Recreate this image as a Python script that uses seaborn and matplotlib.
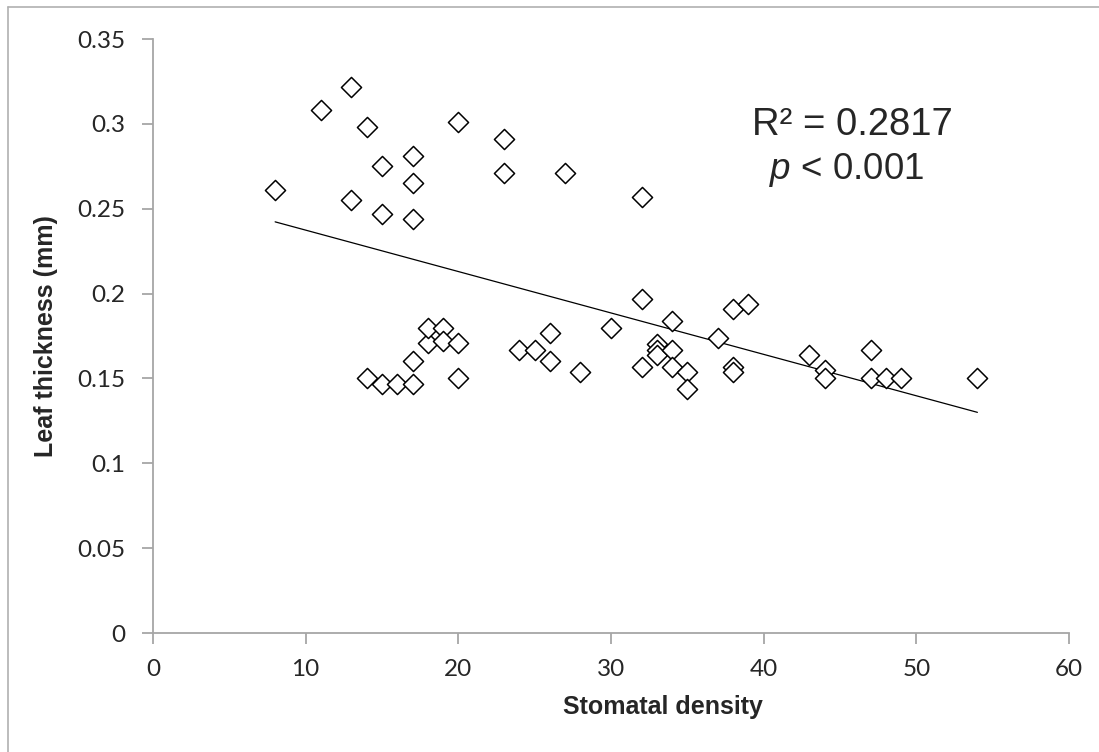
import numpy as np
import pandas as pd
import matplotlib
matplotlib.use("Agg")
import matplotlib.pyplot as plt
import seaborn as sns
from matplotlib.lines import Line2D

# Data
stomatal_density = [8, 11, 13, 14, 13, 15, 15, 17, 17, 17, 20, 23, 23, 27, 32,
                    14, 15, 16, 17, 17, 18, 18, 19, 19, 20, 20, 24, 25, 26, 26, 28, 30,
                    32, 32, 33, 33, 33, 34, 34, 34, 35, 35, 37, 38, 38, 38, 39,
                    43, 44, 44, 47, 47, 48, 49, 54]
leaf_thickness = [0.261, 0.308, 0.322, 0.298, 0.255, 0.275, 0.247, 0.281, 0.265, 0.244,
                  0.301, 0.291, 0.271, 0.271, 0.257,
                  0.150, 0.147, 0.147, 0.147, 0.160, 0.171, 0.180, 0.180, 0.172, 0.171,
                  0.150, 0.167, 0.167, 0.177, 0.160, 0.154, 0.180,
                  0.197, 0.157, 0.170, 0.167, 0.164, 0.184, 0.167, 0.157, 0.154, 0.144,
                  0.174, 0.191, 0.157, 0.154, 0.194,
                  0.164, 0.155, 0.150, 0.167, 0.150, 0.150, 0.150, 0.150]
x_ticks = [0, 10, 20, 30, 40, 50, 60]
y_ticks = [0, 0.05, 0.1, 0.15, 0.2, 0.25, 0.3, 0.35]
y_tick_labels = ["0", "0.05", "0.1", "0.15", "0.2", "0.25", "0.3", "0.35"]
r2_text = "R² = 0.2817"
p_text = "$\\it{p}$ < 0.001"

df = pd.DataFrame({"Stomatal density": stomatal_density,
                   "Leaf thickness (mm)": leaf_thickness})

sns.set_style("white")
plt.rcParams["font.family"] = ["Liberation Sans", "DejaVu Sans"]
plt.rcParams["mathtext.fontset"] = "custom"
plt.rcParams["mathtext.it"] = "Liberation Sans:italic"
plt.rcParams["mathtext.rm"] = "Liberation Sans"

fig = plt.figure(figsize=(10.99, 7.52), dpi=100)
ax = fig.add_axes([153/1099, (752-633)/752, (1069-153)/1099, (633-39)/752])

grey = "#a6a6a6"

# Trend line (linear fit through the data)
coef = np.polyfit(df["Stomatal density"], df["Leaf thickness (mm)"], 1)
xl = np.array([min(stomatal_density), max(stomatal_density)])
sns.lineplot(x=xl, y=np.polyval(coef, xl), ax=ax, color="black", linewidth=0.9, zorder=2)

sns.scatterplot(data=df, x="Stomatal density", y="Leaf thickness (mm)", ax=ax,
                marker="D", s=105, facecolor="white", edgecolor="black",
                linewidth=1.1, zorder=3)

ax.set_xlim(0, 60)
ax.set_ylim(0, 0.35)
ax.set_xticks(x_ticks)
ax.set_yticks(y_ticks)
ax.set_yticklabels(y_tick_labels)

for lab in ax.get_xticklabels() + ax.get_yticklabels():
    lab.set_fontfamily(["Lato", "DejaVu Sans"])
    lab.set_fontsize(17.5)

ax.tick_params(axis="both", direction="out", length=8, width=1.3, color=grey,
               bottom=True, left=True)
ax.tick_params(axis="y", pad=12)
ax.tick_params(axis="x", pad=11)

for side in ["top", "right"]:
    ax.spines[side].set_visible(False)
for side in ["left", "bottom"]:
    ax.spines[side].set_color(grey)
    ax.spines[side].set_linewidth(1.3)

ax.set_xlabel("Stomatal density", fontsize=18, fontweight="bold", labelpad=8)
ax.xaxis.set_label_coords((663-153)/916, -0.105)
ax.set_ylabel("Leaf thickness (mm)", fontsize=18, fontweight="bold", labelpad=14)

# Annotations
ax.text(0.654, 0.855, r2_text, transform=ax.transAxes, fontsize=27.5, va="center", ha="left")
ax.text(0.673, 0.78, p_text, transform=ax.transAxes, fontsize=26.5, va="center", ha="left")

# Chart-area border (only left and top visible in the reference)
fig.add_artist(Line2D([8/1099, 8/1099], [0, 1 - 7/752], transform=fig.transFigure,
                      color="#b0b0b0", linewidth=1.2))
fig.add_artist(Line2D([8/1099, 1], [1 - 7/752, 1 - 7/752], transform=fig.transFigure,
                      color="#b0b0b0", linewidth=1.2))

fig.savefig("out.png", dpi=100, facecolor="white")
